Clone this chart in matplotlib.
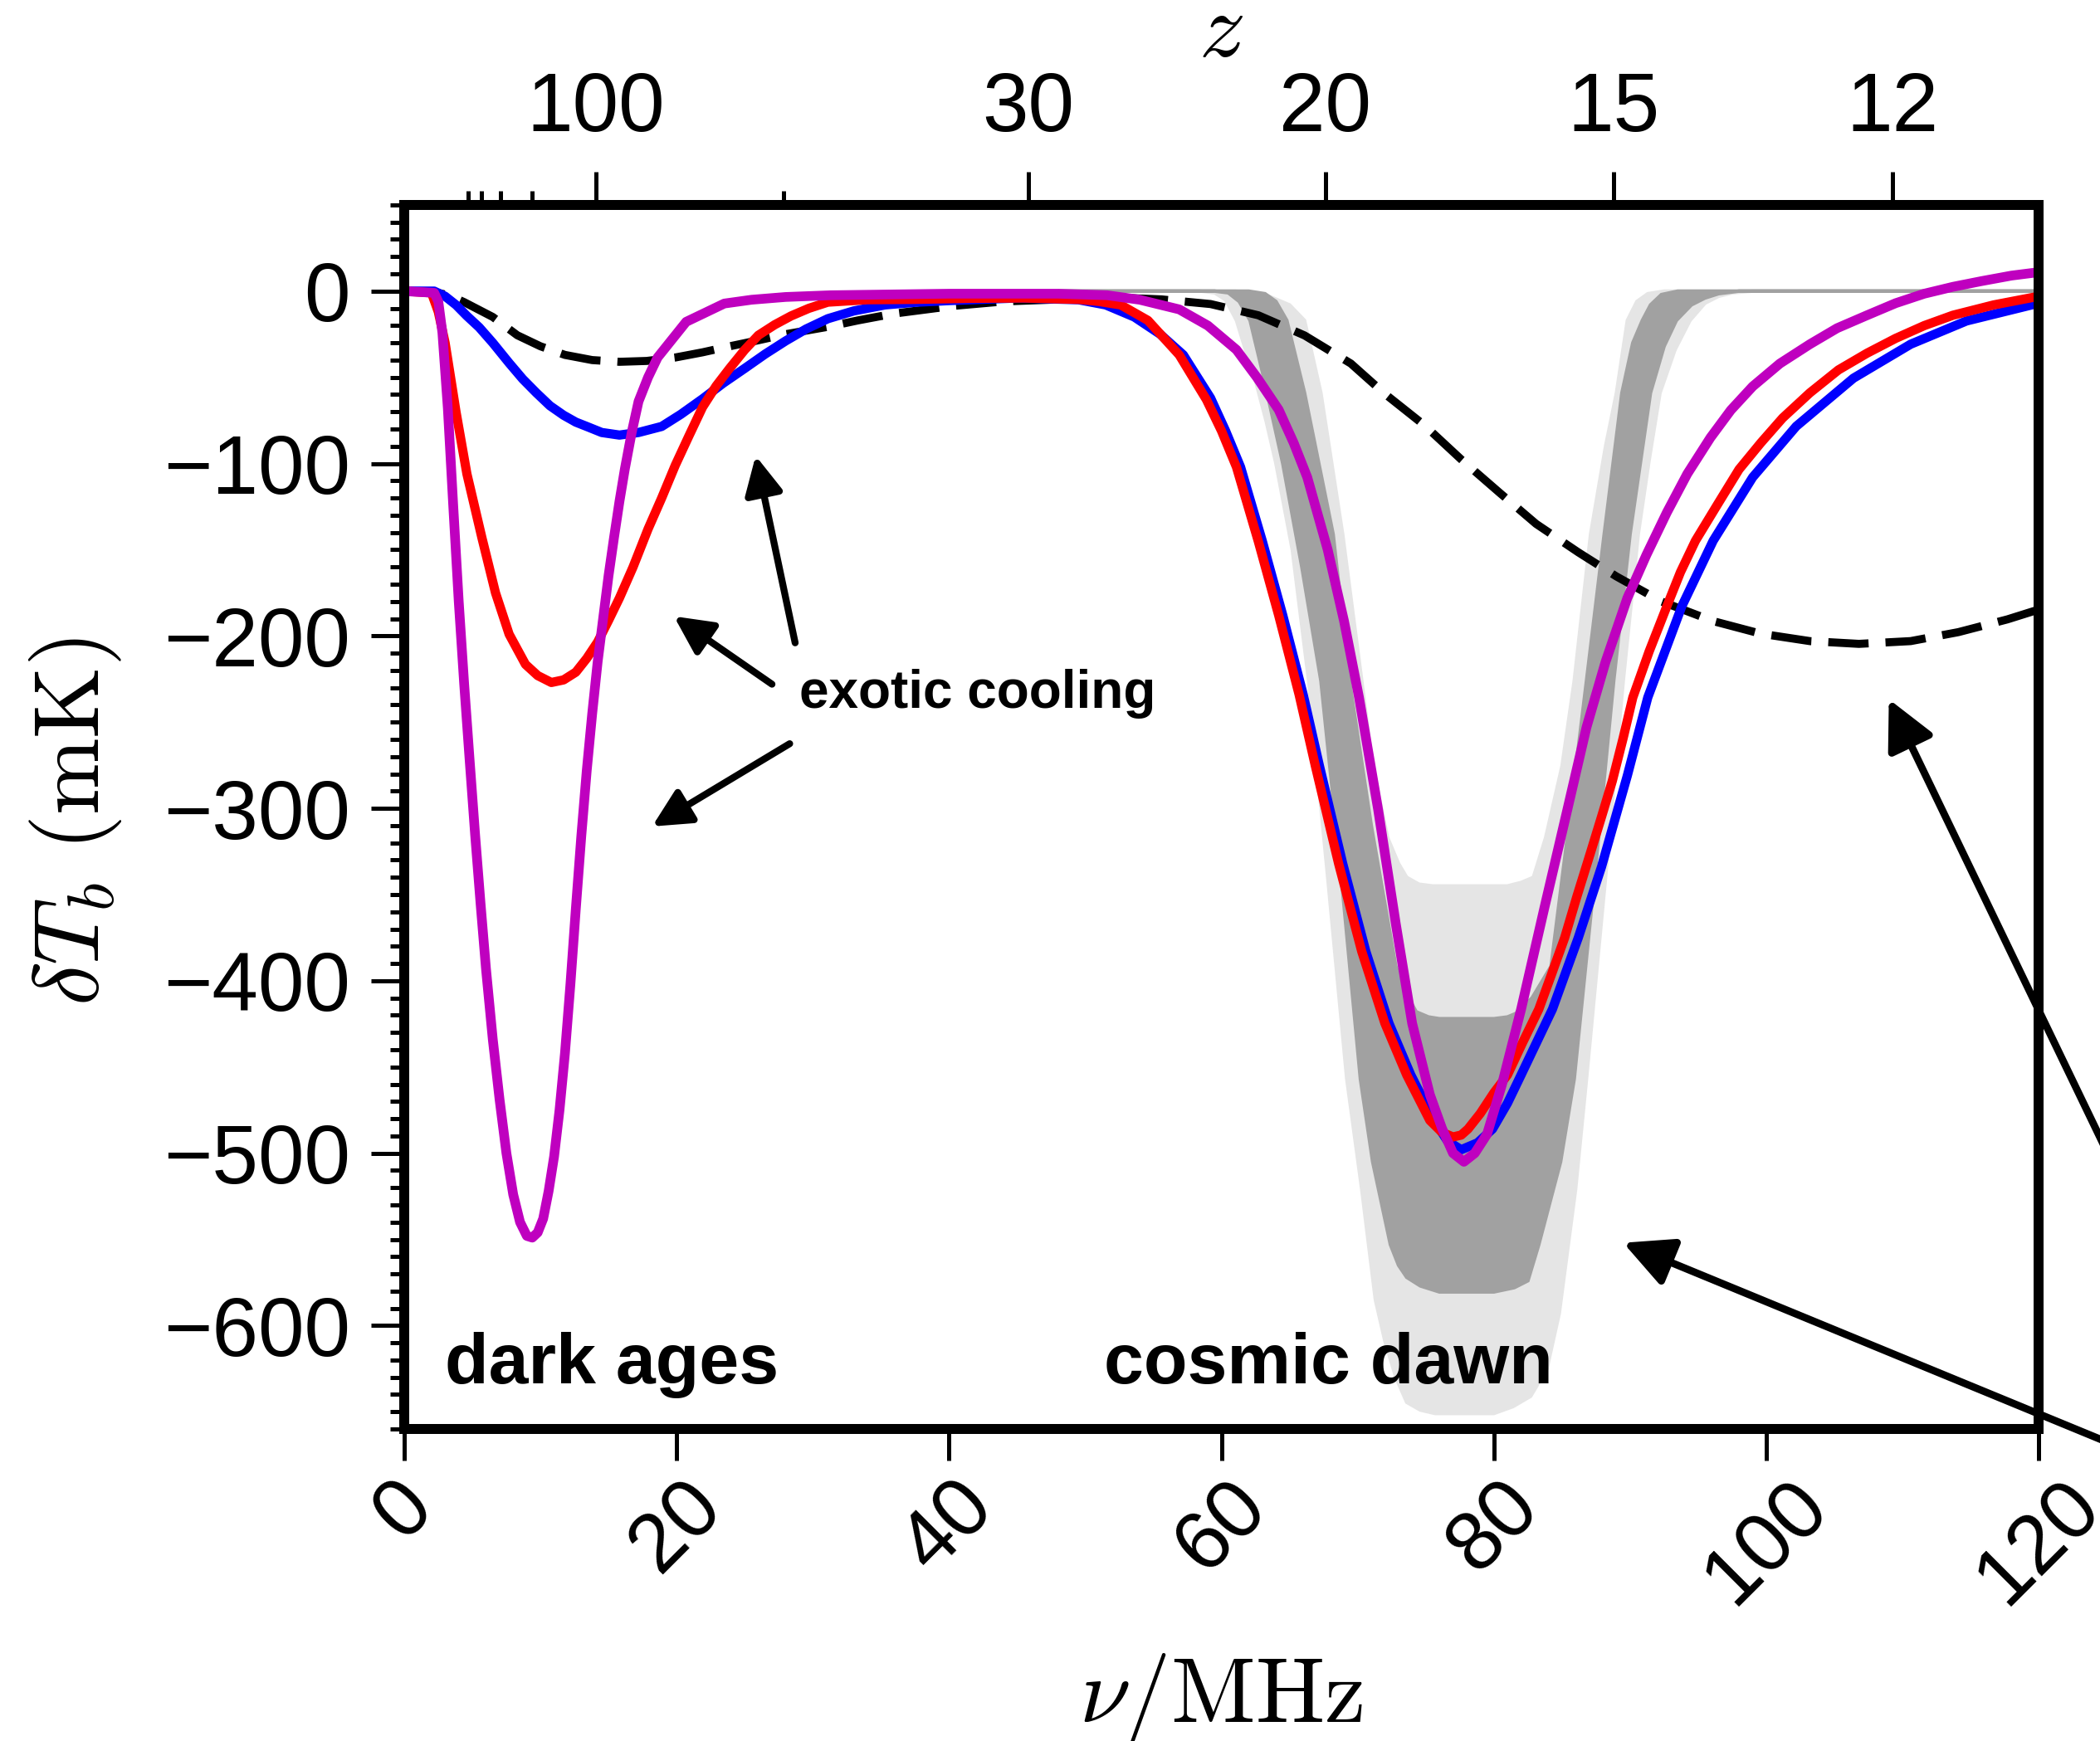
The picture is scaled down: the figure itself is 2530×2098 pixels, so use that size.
import numpy as np
import matplotlib
matplotlib.use("Agg")
import matplotlib.pyplot as plt

# values: frequency in MHz, brightness temperature in mK
NU_DASH = [0, 1.2, 2.2, 3.3, 4.4, 6.5, 8.3, 10.0, 11.8, 13.8, 15.8, 17.8, 19.9, 21.9, 23.9, 26.0, 28.0,
           31.1, 33.3, 36.0, 40.4, 44.0, 48.1, 51.6, 55.6, 59.2, 62.7, 66.1, 69.5, 72.0, 74.9,
           77.6, 80.4, 83.1, 86.2, 89.0, 92.3, 96.1, 99.6, 103.2, 106.8, 110.6, 114.1, 117.7, 120]
T_DASH = [0, 0, -0.5, -2.5, -6.4, -15, -25.6, -32, -37, -40, -41, -40.5, -38.5, -35.5, -32, -28.5, -25,
          -20.7, -17, -13, -8.5, -6, -4.8, -3.5, -4.8, -7.5, -14, -25.7, -42, -59.6, -77.8,
          -97.6, -116.8, -135, -151.5, -165.5, -180, -191.4, -198.7, -203, -204.6, -203, -197.8, -190.4, -184.7]

NU_BLUE = [0, 2.2, 3.0, 3.8, 4.6, 5.5, 6.5, 7.7, 8.7, 9.7, 10.7, 11.7, 12.6, 13.4, 14.5, 15.8, 17.2,
           18.9, 20.3, 21.9, 23.4, 25.0, 26.5, 28.0, 29.5, 31.1, 33.0, 35.3, 37.5, 40, 45, 49.5, 51.5,
           53.6, 55.5, 57.2, 59.2, 60.3, 61.4, 63.0, 64.5, 66.0, 67.2, 68.9, 70.6, 72.3, 73.9, 75.6,
           76.6, 77.6, 78.8, 79.9, 81.0, 82.0, 84.3, 86.2, 87.9, 89.8, 91.3, 93.8, 96.1, 99.0, 102.2,
           106.4, 110.6, 114.7, 120]
T_BLUE = [0, 0, -3, -8, -14.4, -21, -30, -41.7, -51, -59, -66.5, -72, -76, -78.5, -82, -83.5, -82,
          -78.5, -71.5, -62.5, -53.5, -44.8, -36.5, -28.9, -22, -16, -11.5, -8, -6.5, -5.5, -4, -5, -8,
          -15, -25, -37, -62, -81, -102, -145, -188, -234, -275.6, -332, -383, -424.7, -454.6, -481,
          -493, -498, -494, -486, -471, -454.6, -416.5, -375, -334, -281, -235.7, -182.8, -144.8, -108, -78.4,
          -50.5, -30.8, -17.3, -7]

NU_RED = [0, 2.0, 2.5, 3.0, 3.8, 4.6, 5.7, 6.7, 7.7, 8.9, 9.8, 10.8, 11.7, 12.6, 13.4, 14.2, 15.0,
          15.8, 16.8, 17.9, 18.9, 19.9, 20.9, 21.9, 22.9, 23.9, 25.0, 26.0, 27.2, 28.4, 29.7, 31.1,
          34.0, 37.4, 41.5, 45.5, 49.5, 51.0, 52.6, 54.6, 56.9, 58.9, 60.0, 61.1, 62.7, 64.2, 65.7,
          66.9, 68.6, 70.3, 72.0, 73.6, 75.3, 76.2, 77.0, 77.6, 78.1, 79.0, 80.0, 81.0, 82.1, 83.3,
          84.2, 85.2, 86.1, 87.1, 87.9, 88.7, 89.5, 90.2, 91.4, 92.7, 93.7, 94.8, 96.4, 98.0, 99.6,
          101.2, 103.2, 105.3, 107.4, 109.5, 111.6, 113.7, 116.7, 120]
T_RED = [0, -1, -12, -30, -70, -106, -143, -175, -199, -216.5, -223, -227, -225.5, -221, -213, -203.5, -191,
         -178, -160, -138, -120, -101, -84, -67.3, -55, -44.7, -34, -25.6, -19.5, -14.4, -10, -6.4,
         -5, -4.8, -4.2, -4, -4.8, -6, -8, -17, -37, -63, -81, -102, -145, -188, -234,
         -275.6, -332, -383, -424.7, -454.6, -481, -488, -490.6, -489.5, -486, -477, -465, -454.6, -436, -416.5,
         -397, -375, -351, -325.6, -305, -284, -259, -235.7, -209, -182.8, -163, -144.8, -124, -103.4, -88,
         -73.6, -59, -45.7, -36, -27.4, -20, -14, -8, -3]

NU_MAG = [0, 2.2, 2.5, 2.8, 3.2, 3.6, 4.0, 4.4, 4.8, 5.2, 5.6, 6.0, 6.5, 7.0, 7.5, 8.0, 8.5, 9.0,
          9.4, 9.8, 10.2, 10.6, 11.0, 11.4, 11.8, 12.2, 12.6, 13.0, 13.4, 13.8, 14.2, 14.6, 15.0,
          15.4, 15.8, 16.2, 16.7, 17.2, 17.9, 18.6, 20.7, 23.5, 25.5, 28.0, 31.3, 40, 48, 51.6, 54.0,
          56.9, 59.0, 61.1, 62.6, 64.2, 65.3, 66.3, 67.8, 69.0, 70.1, 71.5, 72.8, 74.0, 75.3, 76.2,
          77.0, 77.8, 78.6, 79.5, 80.6, 82.0, 83.7, 85.4, 86.8, 88.2, 89.8, 91.2, 92.7, 94.2, 95.9,
          97.4, 99.0, 101.0, 103.2, 105.2, 107.4, 109.5, 111.6, 113.7, 115.8, 118.0, 120]
T_MAG = [0, -1, -6, -24, -68, -125, -180, -228, -272, -315, -355, -393, -434, -469, -500, -524, -540, -548,
         -549, -546, -538, -522, -502, -475, -442, -402, -358, -316, -278, -245, -215, -190, -165,
         -143, -122, -103, -82, -64, -50, -38.5, -17.8, -7.2, -5, -3.4, -2.4, -1.5, -1.5, -2.4, -5,
         -10.6, -20, -34, -50, -68.8, -88, -108, -150, -191.4, -235.7, -300.6, -367, -424.7, -466, -485.8,
         -500, -505, -500, -489, -460, -416.5, -358, -300.6, -253, -215, -178, -153, -128.4, -106, -85,
         -69, -55.3, -42, -30.8, -21.5, -14, -7, -1.5, 2.5, 5.8, 9, 11]

# light (outer) and dark (inner) bands round the cosmic dawn trough: lower and upper edges
LIGHT_LOW_X = [48, 58.5, 59.5, 60.3, 61.1, 61.8, 62.5, 63.3, 64.0, 65.2, 66.4, 67.8, 69.2, 70.3,
               71.3, 72.0, 72.8, 73.6, 74.6, 75.7, 78.0, 80.0, 81.4, 82.7, 83.9, 84.8, 86.0, 86.8,
               88.2, 89.5, 90.6, 91.4, 92.2, 93.3, 94.4, 95.5, 96.5, 97.5, 99.0, 120]
LIGHT_LOW_Y = [0, 0, -1, -5, -17, -35, -52, -76, -100, -150, -226, -340, -457, -521,
               -585, -609, -630, -644.5, -649, -651, -651, -651, -647, -641, -625, -593, -521, -457,
               -340, -226, -141, -98, -59, -34, -17, -7, -3, -1, 0, 0]
LIGHT_UP_X = [48, 61.0, 62.3, 63.5, 65.0, 66.1, 67.3, 68.9, 70.3, 71.1, 72.2, 73.0, 73.6, 74.5,
              75.5, 78.0, 81.0, 82.0, 82.9, 83.8, 85.0, 85.9, 87.1, 88.2, 89.0, 89.8, 90.5, 91.3, 92.5, 120]
LIGHT_UP_Y = [0, 0, -1, -3, -8, -17, -59, -141, -226, -275.6, -317, -332, -340, -344,
              -345, -345, -345, -343, -340, -317, -275.6, -226, -141, -90, -59, -17, -6, -1.5, 0, 0]
DARK_LOW_X = [48, 59.5, 60.5, 61.3, 62.1, 63.1, 64.5, 65.9, 67.3, 68.8, 70.2, 71.1, 72.4, 73.0,
              73.6, 74.6, 76.0, 78.0, 80.0, 81.5, 82.5, 83.3, 84.9, 85.9, 87.4, 88.8, 90.0, 91.5,
              92.5, 93.4, 94.5, 95.5, 96.5, 98.0, 120]
DARK_LOW_Y = [0, 0, -1, -6, -17, -50, -100, -160, -226, -340, -457, -505, -553, -565,
              -572, -577, -580.5, -580.5, -580.5, -578, -574, -553, -505, -457, -340, -226, -141, -59,
              -32, -17, -8, -4, -1.5, 0, 0]
DARK_UP_X = [48, 62.0, 63.2, 64.0, 64.8, 66.1, 68.2, 69.4, 71.0, 72.8, 73.6, 74.3, 75.2, 76.0,
             78.0, 80.0, 81.0, 81.6, 82.8, 84.2, 85.5, 86.8, 88.1, 89.4, 90.2, 90.9, 91.5, 92.3, 93.5, 120]
DARK_UP_Y = [0, 0, -1.5, -6, -17, -59, -141, -226, -310, -391.6, -408, -418, -421, -422,
             -422, -422, -421, -419, -410, -391.6, -310, -226, -141, -59, -30, -17, -8, -2, 0, 0]

# redshift ticks on the top axis
Z_MAJOR = [100, 30, 20, 15, 12]
Z_MINOR = [300, 250, 200, 150, 50]
NU21 = 1420.4

plt.rcParams["font.family"] = ["Liberation Sans", "DejaVu Sans"]
plt.rcParams["mathtext.fontset"] = "cm"

fig = plt.figure(figsize=(12.65, 10.49), dpi=200)
ax = fig.add_axes([0.1925, 0.1792, 0.7783, 0.7031])

ax.fill(LIGHT_LOW_X + LIGHT_UP_X[::-1], LIGHT_LOW_Y + LIGHT_UP_Y[::-1],
        fc="#e5e5e5", ec="#e5e5e5", lw=1.5, zorder=1)
ax.fill(DARK_LOW_X + DARK_UP_X[::-1], DARK_LOW_Y + DARK_UP_Y[::-1],
        fc="#a1a1a1", ec="#a1a1a1", lw=1.5, zorder=2)

ax.plot(NU_DASH, T_DASH, color="k", lw=3.5, ls=(0, (5.0, 2.1)), zorder=3)
ax.plot(NU_BLUE, T_BLUE, color="#0000ff", lw=4.0, zorder=4, solid_joinstyle="round")
ax.plot(NU_RED, T_RED, color="#ff0000", lw=4.0, zorder=5, solid_joinstyle="round")
ax.plot(NU_MAG, T_MAG, color="#bf00bf", lw=4.2, zorder=6, solid_joinstyle="round")

ax.text(3.0, -633.5, "dark ages", fontsize=31, fontweight="bold", va="baseline")
ax.text(51.4, -633.5, "cosmic dawn", fontsize=31, fontweight="bold", va="baseline")
ax.text(29.0, -241.5, "exotic cooling", fontsize=23, fontweight="bold", va="baseline")

small = dict(arrowstyle="-|>,head_length=0.6,head_width=0.3", color="k", lw=3.0,
             shrinkA=0, shrinkB=0, mutation_scale=23)
ax.annotate("", xy=(25.8, -95.5), xytext=(28.7, -204), arrowprops=small)
ax.annotate("", xy=(19.8, -188.6), xytext=(27.0, -228), arrowprops=small)
ax.annotate("", xy=(18.2, -310.5), xytext=(28.3, -262.5), arrowprops=small)

big = dict(arrowstyle="-|>,head_length=0.6,head_width=0.3", color="k", lw=3.2,
           shrinkA=0, shrinkB=0, mutation_scale=30)
ax.annotate("", xy=(109.0, -236.7), xytext=(135, -663), arrowprops=big, annotation_clip=False)
ax.annotate("", xy=(89.5, -552), xytext=(135, -700), arrowprops=big, annotation_clip=False)

ax.set_xlim(0, 120)
ax.set_ylim(-660, 50)
ax.set_xticks(np.arange(0, 121, 20))
ax.set_yticks(np.arange(-600, 1, 100))
ax.set_yticks(np.arange(-660, 51, 10), minor=True)
ax.tick_params(axis="y", which="major", direction="out", length=14.4, width=1.8,
               labelsize=36, pad=9)
ax.tick_params(axis="y", which="minor", direction="out", length=6, width=1.8)
ax.tick_params(axis="x", which="major", direction="out", length=13.7, width=1.8,
               labelsize=36, pad=2.5, labelrotation=45)
ax.tick_params(top=False, right=False)
for lab in ax.get_xticklabels():
    lab.set_ha("center")
for sp in ax.spines.values():
    sp.set_linewidth(4.3)

ax2 = ax.twiny()
ax2.set_xlim(0, 120)
ax2.set_xticks([NU21 / (1 + z) for z in Z_MAJOR])
ax2.set_xticklabels([str(z) for z in Z_MAJOR])
ax2.set_xticks([NU21 / (1 + z) for z in Z_MINOR], minor=True)
ax2.tick_params(axis="x", which="major", direction="out", length=14.4, width=1.8,
                labelsize=36, pad=10)
ax2.tick_params(axis="x", which="minor", direction="out", length=6, width=1.8)
for sp in ax2.spines.values():
    sp.set_linewidth(4.3)

fig.text(0.5816, 0.011, r"$\nu/\mathrm{MHz}$", fontsize=40, ha="center", va="baseline")
fig.text(0.036, 0.528, r"$\delta T_b\ (\mathrm{mK})$", fontsize=40, rotation=90,
         ha="center", va="center")
fig.text(0.5816, 0.9676, r"$z$", fontsize=40, ha="center", va="baseline")

fig.savefig("out.png", dpi=200)
